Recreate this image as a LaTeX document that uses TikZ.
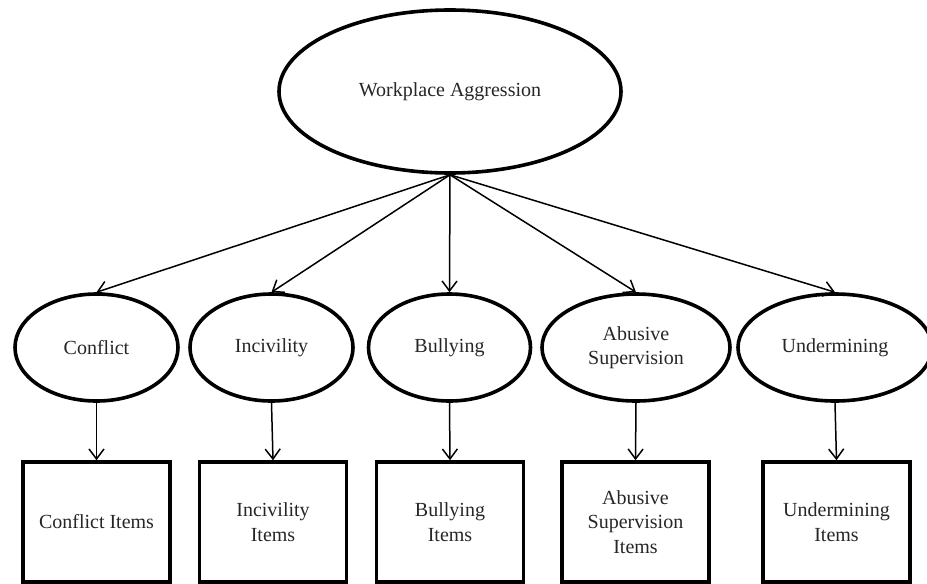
\documentclass[tikz,border=0pt]{standalone}
\usepackage{fontspec}
\setmainfont{Liberation Serif}
\usetikzlibrary{shapes.geometric,arrows.meta}
\begin{document}
\begin{tikzpicture}[x=1pt,y=-1pt,
  every node/.style={font=\fontsize{20}{24.5}\selectfont, align=center, inner sep=0pt, text=black!85},
  latent/.style={draw, ellipse, line width=3.6pt, minimum height=107pt},
  items/.style={draw, rectangle, line width=3.6pt, minimum width=147pt, minimum height=120pt},
  path/.style={line width=1.5pt, -{Straight Barb[length=10pt,width=15pt,line width=1.5pt]}}
]
\useasboundingbox (0,0) rectangle (927,584);

% general factor
\node[draw, ellipse, line width=3.6pt, minimum width=342pt, minimum height=163pt] (wa) at (450,91.5) {Workplace Aggression};

% specific factors
\node[latent, minimum width=163pt] (c)  at (96.5,347.5) {Conflict};
\node[latent, minimum width=163pt] (i)  at (271.5,347.5) {Incivility};
\node[latent, minimum width=162pt] (b)  at (449.5,347.5) {Bullying};
\node[latent, minimum width=188pt] (a)  at (636,347.5) {Abusive\\Supervision};
\node[latent, minimum width=194pt] (u)  at (835,347.5) {Undermining};

% indicator sets
\node[items] (ci) at (96.5,522) {Conflict Items};
\node[items] (ii) at (273,522) {Incivility\\Items};
\node[items] (bi) at (450,522) {Bullying\\Items};
\node[items] (ai) at (635.5,522) {Abusive\\Supervision\\Items};
\node[items] (ui) at (836.5,522) {Undermining\\Items};

% loadings
\foreach \n in {c,i,b,a,u} {
  \draw[path] (wa.south) -- (\n.north);
}
\foreach \n/\m in {c/ci,i/ii,b/bi,a/ai,u/ui} {
  \draw[path] (\n.south) -- (\m.north);
}
\end{tikzpicture}
\end{document}
